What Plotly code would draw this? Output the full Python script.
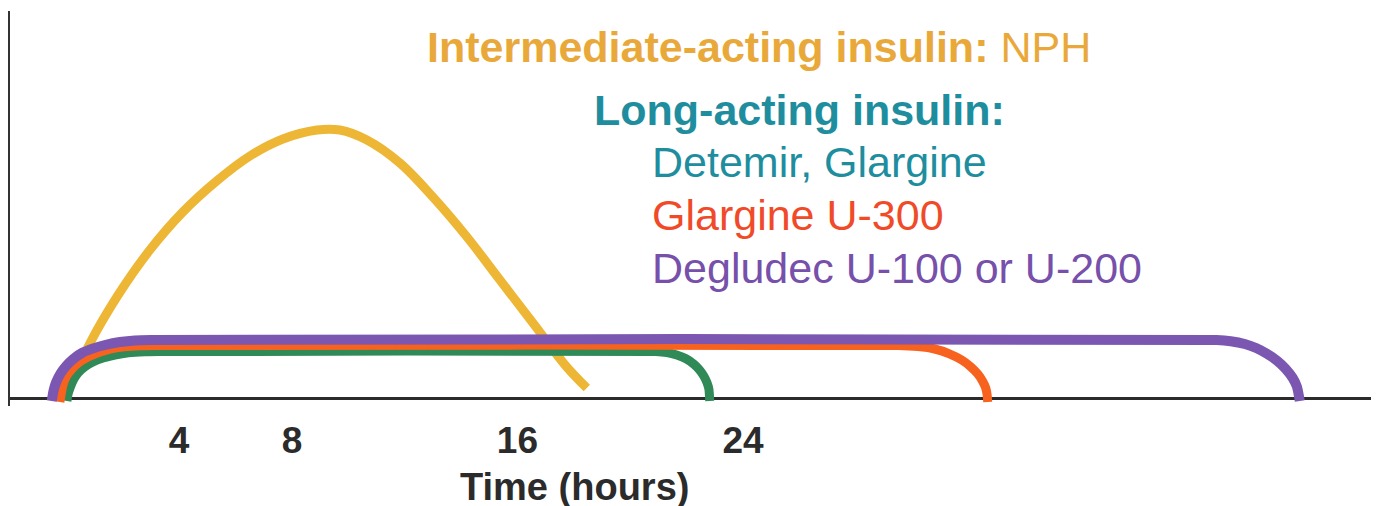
import plotly.graph_objects as go

# ---- data (hours, relative activity) ----
tick_hours = [4, 8, 16, 24]
tick_text = ["4", "8", "16", "24"]

nph_h = [-0.05, 0.84, 1.79, 2.96, 4.13, 5.33, 6.51, 7.68, 8.89, 9.7, 10.66, 11.83, 13.0, 14.21, 15.38, 16.55, 17.75, 18.46]
nph_v = [0.0, 13.75, 25.25, 37.0, 46.5, 54.25, 60.5, 64.75, 67.0, 67.0, 64.5, 58.75, 50.25, 40.25, 29.5, 18.75, 7.75, 2.5]

detemir_h = [0.02, 0.06, 0.13, 0.25, 0.41, 0.65, 0.94, 1.3, 1.72, 2.2, 2.79, 3.3,
             20.9, 21.3, 21.65, 21.98, 22.25, 22.45, 22.61, 22.72, 22.79, 22.82]
detemir_v = [-0.75, 1.0, 2.5, 4.5, 6.25, 7.8, 9.0, 10.0, 10.75, 11.3, 11.55, 11.6,
             11.6, 11.35, 10.75, 9.8, 8.5, 7.1, 5.5, 3.9, 2.25, -0.75]

u300_h = [-0.23, -0.18, -0.12, 0.0, 0.2, 0.45, 0.77, 1.15, 1.55, 2.05, 2.61, 3.2,
          29.5, 30.2, 30.8, 31.3, 31.76, 32.08, 32.33, 32.5, 32.61, 32.66, 32.68]
u300_v = [-1.0, 1.2, 3.25, 5.4, 7.25, 8.9, 10.25, 11.4, 12.25, 12.8, 13.05, 13.1,
          13.1, 12.85, 12.25, 11.1, 9.5, 7.8, 6.0, 4.2, 2.5, 0.8, -1.0]

degludec_h = [-0.52, -0.45, -0.36, -0.2, -0.01, 0.25, 0.55, 0.95, 1.37, 1.9, 2.43, 3.0,
              40.8, 41.3, 41.8, 42.2, 42.6, 42.95, 43.25, 43.5, 43.65, 43.75]
degludec_v = [-0.75, 2.0, 4.0, 6.2, 8.0, 9.8, 11.25, 12.4, 13.25, 14.0, 14.4, 14.5,
              14.5, 14.2, 13.5, 12.5, 11.0, 9.3, 7.3, 5.0, 2.8, -0.75]

YELLOW = "#EDB635"
GREEN = "#2F8A58"
ORANGE = "#F8621F"
PURPLE = "#7B57B2"
TEAL = "#1E8E9F"
GOLD_TEXT = "#E9A93A"
ORANGE_TEXT = "#F04A28"
PURPLE_TEXT = "#7650AA"

fig = go.Figure()
for h, v, c, w, sm, name in [
    (nph_h, nph_v, YELLOW, 9, 1.0, "NPH"),
    (detemir_h, detemir_v, GREEN, 9, 0.6, "Detemir, Glargine"),
    (u300_h, u300_v, ORANGE, 9, 0.6, "Glargine U-300"),
    (degludec_h, degludec_v, PURPLE, 10, 0.6, "Degludec U-100 or U-200"),
]:
    fig.add_trace(go.Scatter(x=h, y=v, mode="lines", name=name,
                             line=dict(color=c, width=w, shape="spline", smoothing=sm),
                             hoverinfo="skip"))

FONT = "Arial, Liberation Sans, sans-serif"
fig.update_layout(
    width=1379, height=506,
    margin=dict(l=2, r=8, t=3, b=108),
    paper_bgcolor="white", plot_bgcolor="white",
    showlegend=False,
    xaxis=dict(range=[-2.0, 46.56], showgrid=False, zeroline=False, showline=False,
               tickmode="array", tickvals=tick_hours, ticktext=tick_text, ticks="",
               tickfont=dict(family=FONT, size=37, color="#2b2b2b", weight="bold"),
               ticklabelstandoff=9),
    yaxis=dict(range=[-2.0, 96.75], showgrid=False, showticklabels=False, ticks="",
               showline=True, linecolor="#333333", linewidth=3,
               zeroline=True, zerolinecolor="#2b2b2b", zerolinewidth=3),
)

def ann(text, x, y, color, size=43, bold=False):
    fig.add_annotation(text=text, x=x, y=y, xref="paper", yref="paper",
                       xanchor="left", yanchor="middle", showarrow=False,
                       font=dict(family=FONT, size=size, color=color,
                                 weight="bold" if bold else "normal"))

fig.add_annotation(text="<b>Intermediate-acting insulin:</b> NPH", x=0.3031, y=0.9089,
                   xref="paper", yref="paper", xanchor="left", yanchor="middle",
                   showarrow=False, font=dict(family=FONT, size=43, color=GOLD_TEXT))
ann("Long-acting insulin:", 0.4251, 0.7494, TEAL, 43, bold=True)
ann("Detemir, Glargine", 0.4675, 0.6177, TEAL, 43)
ann("Glargine U-300", 0.4675, 0.4835, ORANGE_TEXT, 43)
ann("Degludec U-100 or U-200", 0.4675, 0.3494, PURPLE_TEXT, 43)

fig.add_annotation(text="Time (hours)", x=0.4127, y=-0.205, xref="paper", yref="paper",
                   xanchor="center", yanchor="middle", showarrow=False,
                   font=dict(family=FONT, size=38, color="#2b2b2b", weight="bold"))

fig.write_html("out.html")
